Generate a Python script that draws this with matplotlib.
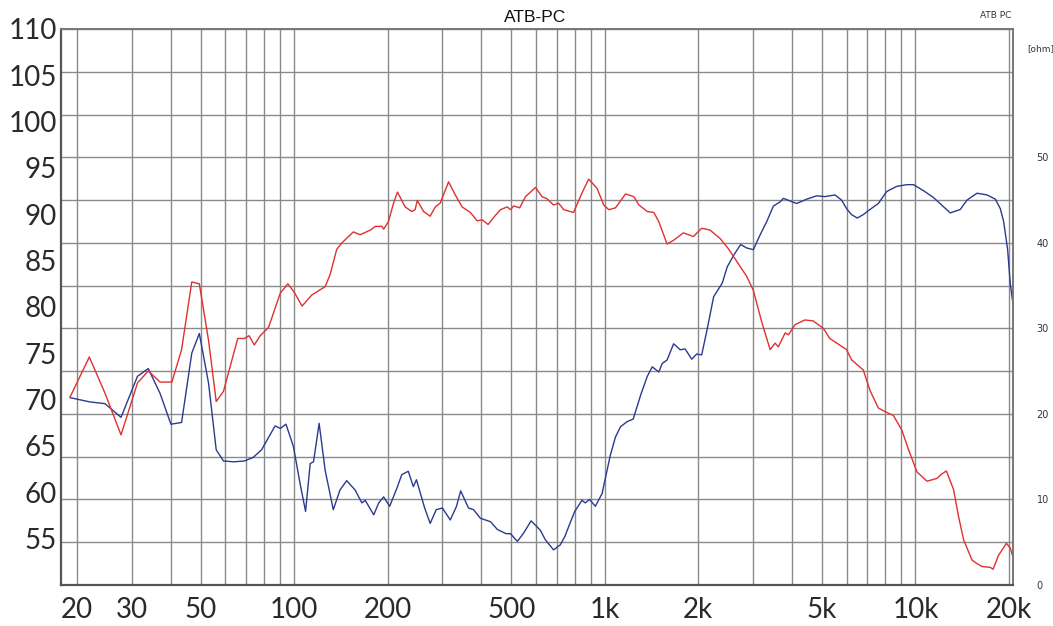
import numpy as np
import matplotlib.pyplot as plt
from matplotlib.ticker import NullFormatter

plt.rcParams['font.family'] = ['Lato', 'DejaVu Sans']

# red curve: SPL in dB (left axis)
red_freq = [19.0, 21.9, 24.6, 27.7, 31.3, 33.9, 37.0, 40.4, 43.4, 46.8, 49.5, 53.0, 56.1, 59.2,
            65.8, 69.1, 71.6, 74.4, 77.7, 82.7, 90.2, 95.4, 100, 106, 114, 125.8, 130.5, 137,
            142.2, 155, 163, 176, 182.5, 191.7, 194, 201, 208.8, 215, 227.6, 239, 245, 249,
            261, 274, 284.6, 295, 314, 330, 347, 369, 388, 403, 421, 437, 461, 485, 497, 509,
            532, 555, 598, 628, 650, 684, 710, 737, 793, 844, 887, 944, 992, 1030, 1082, 1166,
            1240, 1288, 1370, 1438, 1492, 1586, 1665, 1790, 1927, 2050, 2181, 2348, 2497, 2710,
            2862, 3006, 3198, 3405, 3534, 3618, 3806, 3900, 4100, 4404, 4684, 5052, 5300, 6000,
            6226, 6792, 7136, 7592, 7980, 8490, 9040, 9500, 10110, 10890, 11716, 12166, 12574,
            13260, 13760, 14280, 15200, 15780, 16380, 17420, 17770, 18510, 19620, 20180, 20520]
red_db = [70.3, 74.6, 70.7, 66.2, 71.8, 73.1, 71.9, 71.9, 75.4, 82.7, 82.5, 76.4, 69.8, 70.9,
          76.6, 76.6, 76.9, 75.9, 76.9, 77.8, 81.5, 82.5, 81.6, 80.1, 81.3, 82.2, 83.5, 86.2,
          86.9, 88.1, 87.8, 88.3, 88.7, 88.7, 88.4, 89.2, 91.2, 92.4, 90.8, 90.3, 90.5, 91.5,
          90.3, 89.8, 90.8, 91.2, 93.5, 92.1, 90.8, 90.2, 89.3, 89.4, 88.9, 89.6, 90.5, 90.8, 90.5, 90.9,
          90.7, 91.9, 92.9, 91.9, 91.7, 91.0, 91.2, 90.5, 90.2, 92.3, 93.8, 92.8, 91.0, 90.5, 90.7, 92.2,
          91.9, 91.0, 90.3, 90.2, 89.2, 86.8, 87.2, 88.0, 87.6, 88.5, 88.3, 87.4, 86.3, 84.5,
          83.3, 81.8, 78.4, 75.4, 76.1, 75.7, 77.2, 77.0, 78.1, 78.6, 78.5, 77.7, 76.6, 75.4,
          74.3, 73.2, 71.0, 69.1, 68.7, 68.3, 66.7, 64.6, 62.2, 61.2, 61.5, 62.0, 62.3,
          60.3, 57.4, 54.9, 52.7, 52.3, 52.0, 51.9, 51.7, 53.2, 54.5, 54.0, 53.2]

# blue curve: impedance in ohm (right axis)
blue_freq = [19.0, 22.0, 24.6, 27.7, 31.3, 33.9, 37.0, 40.1, 43.4, 46.8, 49.5, 53.0, 56.1, 59.2,
             63.9, 69.1, 73.7, 78.5, 86.8, 90.2, 94.1, 99.4, 104.4, 108.8, 112.6, 115.4, 120.3,
             125.8, 133.6, 140.4, 147.5, 157.1, 165.1, 169.3, 180.3, 187.1, 194, 202.9, 214, 222,
             233, 241.8, 247.5, 263, 274, 286.5, 300, 318, 333, 343.5, 364, 378, 397.5, 428.5,
             450.6, 480.5, 497, 523, 546, 579, 605, 620, 643, 684, 719, 744, 772, 800, 844, 865,
             893, 932, 980, 1004, 1042, 1082, 1123, 1180, 1234, 1304, 1370, 1421, 1492, 1530,
             1586, 1665, 1748, 1813, 1904, 1976, 2050, 2132, 2240, 2388, 2478, 2604, 2736, 2862,
             3006, 3158, 3322, 3488, 3670, 3756, 3946, 4145, 4460, 4810, 5110, 5505, 5782, 6000,
             6226, 6494, 6792, 7136, 7592, 8080, 8700, 9374, 9850, 10608, 11426, 12166, 12940,
             13940, 14650, 15780, 17000, 18080, 18750, 19220, 19800, 20180, 20520]
blue_ohm = [21.9, 21.4, 21.2, 19.6, 24.4, 25.3, 22.4, 18.8, 19.0, 27.1, 29.4, 23.6, 15.8, 14.5,
            14.4, 14.5, 14.9, 15.8, 18.6, 18.3, 18.8, 16.2, 11.9, 8.6, 14.2, 14.4, 18.9,
            13.4, 8.8, 11.1, 12.2, 11.1, 9.6, 9.9, 8.2, 9.6, 10.3, 9.2, 11.3, 12.9,
            13.3, 11.5, 12.3, 9.0, 7.2, 8.8, 9.0, 7.6, 9.2, 11.0, 9.0, 8.8, 7.8, 7.4,
            6.5, 6.0, 6.0, 5.1, 6.0, 7.5, 6.8, 6.4, 5.3, 4.1, 4.7, 5.7, 7.2, 8.6, 9.9, 9.6,
            10.0, 9.2, 10.7, 12.5, 15.2, 17.3, 18.5, 19.1, 19.4, 22.2, 24.4, 25.5, 24.9, 25.9,
            26.3, 28.2, 27.5, 27.6, 26.4, 27.0, 26.9, 29.8, 33.7, 35.3, 37.2, 38.6, 39.8, 39.4,
            39.2, 40.9, 42.5, 44.3, 44.8, 45.2, 44.9, 44.6, 45.1, 45.5, 45.4, 45.6, 45.0, 44.0,
            43.3, 42.9, 43.3, 43.9, 44.6, 46.0, 46.6, 46.8, 46.8, 46.1, 45.3, 44.4, 43.5,
            43.9, 45.0, 45.8, 45.6, 45.1, 44.0, 42.5, 39.2, 35.3, 33.3]

x_ticks = [20, 30, 50, 100, 200, 500, 1000, 2000, 5000, 10000, 20000]
x_labels = ['20', '30', '50', '100', '200', '500', '1k', '2k', '5k', '10k', '20k']
grid_freqs = ([20, 30, 40, 50, 60, 70, 80, 90] + list(range(100, 1000, 100))
              + list(range(1000, 10000, 1000)) + [10000, 20000])
db_ticks = list(range(55, 115, 5))
ohm_grid = list(range(0, 70, 5))

fig = plt.figure(figsize=(10.53, 6.26), dpi=100)
ax = fig.add_axes([0.0579, 0.0655, 0.9041, 0.8882])
ax_ohm = ax.twinx()
ax.set_zorder(2)
ax.patch.set_visible(False)
ax_ohm.set_zorder(1)

ax.set_xscale('log')
ax.set_xlim(17.75, 20600)
ax.set_ylim(50, 110)
ax_ohm.set_ylim(0, 65)

ax.set_xticks(x_ticks, x_labels)
ax.set_xticks(grid_freqs, minor=True)
ax.xaxis.set_minor_formatter(NullFormatter())
ax.set_yticks(db_ticks)

# grid sits on the ohm axis, behind both curves
ax_ohm.set_yticks(ohm_grid, [str(v) if v % 10 == 0 and v <= 50 else '' for v in ohm_grid])
ax_ohm.grid(True, axis='y', color='#8a8a8a', lw=1.0)
for f in grid_freqs:
    ax_ohm.axvline(f, color='#8a8a8a', lw=1.0, zorder=0.5)
ax_ohm.set_axisbelow(True)

ax_ohm.plot(blue_freq, blue_ohm, color='#2b3a90', lw=1.0, zorder=3)
ax.plot(red_freq, red_db, color='#e03030', lw=1.0)

ax.tick_params(axis='both', which='both', length=0, labelsize=20, colors='#2a2a2a')
ax.tick_params(axis='x', pad=9)
ax.tick_params(axis='y', pad=3)
ax_ohm.tick_params(axis='y', length=0, pad=17, labelsize=7, colors='#333333')
for lbl in ax_ohm.get_yticklabels():
    lbl.set_fontfamily('DejaVu Sans')

for s in ax_ohm.spines.values():
    s.set_visible(False)
for s in ['left', 'bottom']:
    ax.spines[s].set_color('#555555')
    ax.spines[s].set_linewidth(1.6)
for s in ['top', 'right']:
    ax.spines[s].set_color('#777777')
    ax.spines[s].set_linewidth(1.4)

fig.text(535 / 1053, 1 - 17 / 626, 'ATB-PC', ha='center', va='center', fontsize=12.5,
         family='Liberation Sans', color='#111111')
fig.text(1011 / 1053, 1 - 15 / 626, 'ATB PC', ha='right', va='center', fontsize=6.5,
         family='DejaVu Sans', color='#333333')
fig.text(1027 / 1053, 1 - 49 / 626, '[ohm]', ha='left', va='center', fontsize=6.5,
         family='DejaVu Sans', color='#333333')

fig.savefig('out.png', dpi=100)
